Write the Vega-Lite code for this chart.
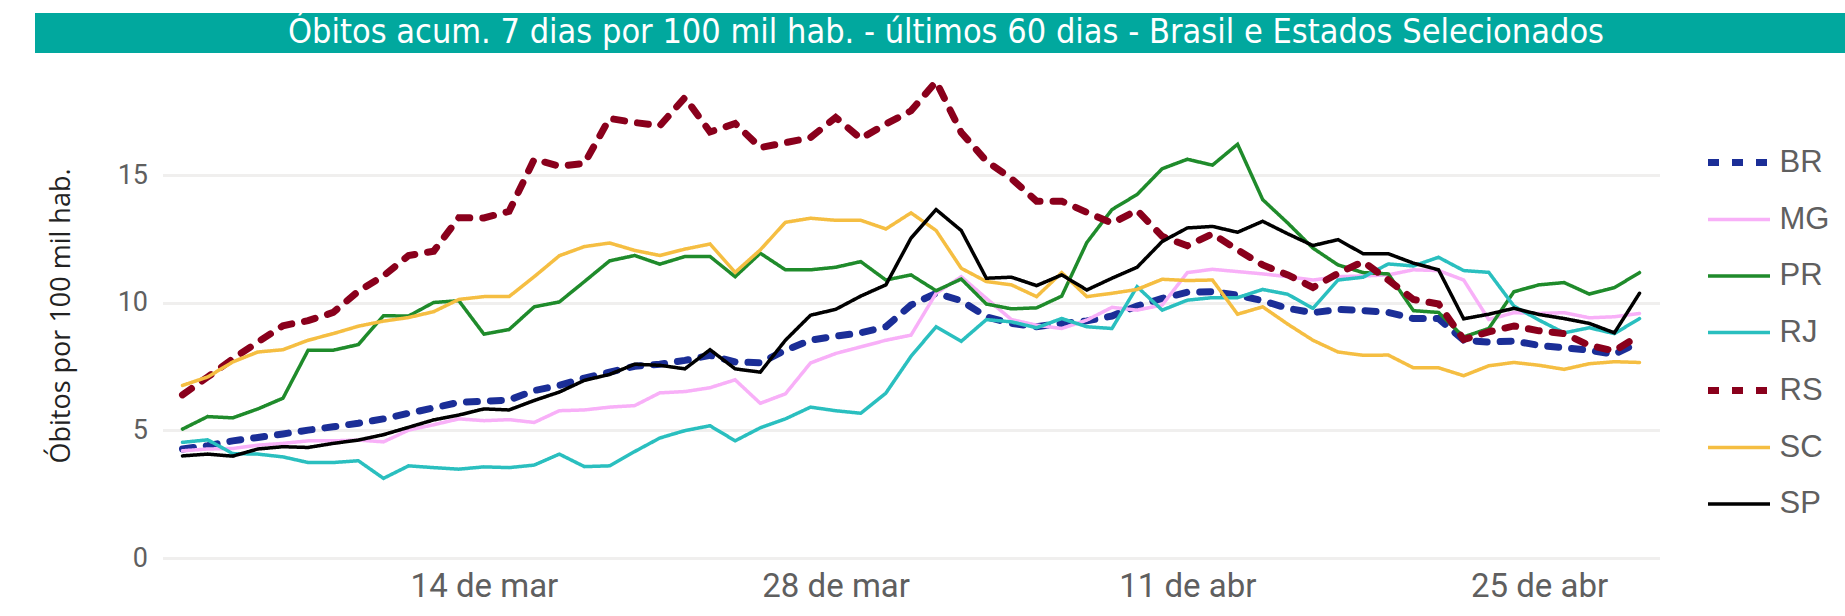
{
  "$schema": "https://vega.github.io/schema/vega-lite/v6.json",
  "background": "white",
  "padding": {"left": 35, "top": 13, "right": 0, "bottom": 0},
  "spacing": 14,
  "center": true,
  "resolve": {
    "scale": {"color": "independent", "strokeDash": "independent", "strokeWidth": "independent"},
    "legend": {"color": "independent", "strokeDash": "independent", "strokeWidth": "independent"}
  },
  "config": {
    "view": {"stroke": null},
    "axis": {"labelFont": "Roboto", "titleFont": "Open Sans"}
  },
  "vconcat": [
    {
      "width": 1936,
      "height": 40,
      "view": {"fill": "#01A89E", "stroke": null},
      "data": {"values": [{"t": "Óbitos acum. 7 dias por 100 mil hab. - últimos 60 dias - Brasil e Estados Selecionados"}]},
      "mark": {"type": "text", "color": "white", "font": "DejaVu Sans Condensed, DejaVu Sans", "fontSize": 34, "baseline": "middle", "align": "center", "dx": -57},
      "encoding": {"text": {"field": "t", "type": "nominal"}}
    },
    {
      "width": 1497,
      "height": 485,
      "data": {"values": [
        {"d": "2021-03-02", "BR": 4.27, "MG": 4.20, "PR": 5.05, "RJ": 4.53, "RS": 6.39, "SC": 6.76, "SP": 4.00},
        {"d": "2021-03-03", "BR": 4.40, "MG": 4.27, "PR": 5.54, "RJ": 4.63, "RS": 7.09, "SC": 7.09, "SP": 4.07},
        {"d": "2021-03-04", "BR": 4.59, "MG": 4.29, "PR": 5.49, "RJ": 4.09, "RS": 7.80, "SC": 7.68, "SP": 3.99},
        {"d": "2021-03-05", "BR": 4.72, "MG": 4.42, "PR": 5.84, "RJ": 4.07, "RS": 8.46, "SC": 8.07, "SP": 4.27},
        {"d": "2021-03-06", "BR": 4.86, "MG": 4.49, "PR": 6.26, "RJ": 3.96, "RS": 9.10, "SC": 8.16, "SP": 4.36},
        {"d": "2021-03-07", "BR": 5.01, "MG": 4.59, "PR": 8.14, "RJ": 3.74, "RS": 9.30, "SC": 8.53, "SP": 4.33},
        {"d": "2021-03-08", "BR": 5.14, "MG": 4.59, "PR": 8.14, "RJ": 3.74, "RS": 9.62, "SC": 8.79, "SP": 4.49},
        {"d": "2021-03-09", "BR": 5.28, "MG": 4.62, "PR": 8.36, "RJ": 3.81, "RS": 10.45, "SC": 9.08, "SP": 4.62},
        {"d": "2021-03-10", "BR": 5.45, "MG": 4.55, "PR": 9.49, "RJ": 3.12, "RS": 11.05, "SC": 9.28, "SP": 4.83},
        {"d": "2021-03-11", "BR": 5.67, "MG": 5.01, "PR": 9.48, "RJ": 3.61, "RS": 11.85, "SC": 9.42, "SP": 5.12},
        {"d": "2021-03-12", "BR": 5.88, "MG": 5.22, "PR": 10.01, "RJ": 3.54, "RS": 12.02, "SC": 9.65, "SP": 5.41},
        {"d": "2021-03-13", "BR": 6.10, "MG": 5.45, "PR": 10.08, "RJ": 3.48, "RS": 13.33, "SC": 10.13, "SP": 5.60},
        {"d": "2021-03-14", "BR": 6.14, "MG": 5.38, "PR": 8.77, "RJ": 3.57, "RS": 13.32, "SC": 10.24, "SP": 5.84},
        {"d": "2021-03-15", "BR": 6.19, "MG": 5.42, "PR": 8.95, "RJ": 3.54, "RS": 13.58, "SC": 10.24, "SP": 5.80},
        {"d": "2021-03-16", "BR": 6.56, "MG": 5.31, "PR": 9.84, "RJ": 3.64, "RS": 15.62, "SC": 11.02, "SP": 6.17},
        {"d": "2021-03-17", "BR": 6.76, "MG": 5.77, "PR": 10.03, "RJ": 4.07, "RS": 15.35, "SC": 11.84, "SP": 6.50},
        {"d": "2021-03-18", "BR": 7.05, "MG": 5.80, "PR": 10.83, "RJ": 3.58, "RS": 15.46, "SC": 12.20, "SP": 6.96},
        {"d": "2021-03-19", "BR": 7.28, "MG": 5.91, "PR": 11.64, "RJ": 3.61, "RS": 17.22, "SC": 12.34, "SP": 7.19},
        {"d": "2021-03-20", "BR": 7.51, "MG": 5.97, "PR": 11.85, "RJ": 4.17, "RS": 17.06, "SC": 12.05, "SP": 7.59},
        {"d": "2021-03-21", "BR": 7.59, "MG": 6.47, "PR": 11.51, "RJ": 4.70, "RS": 16.93, "SC": 11.85, "SP": 7.55},
        {"d": "2021-03-22", "BR": 7.74, "MG": 6.52, "PR": 11.81, "RJ": 4.99, "RS": 18.04, "SC": 12.10, "SP": 7.41},
        {"d": "2021-03-23", "BR": 7.94, "MG": 6.67, "PR": 11.81, "RJ": 5.18, "RS": 16.69, "SC": 12.30, "SP": 8.16},
        {"d": "2021-03-24", "BR": 7.68, "MG": 6.98, "PR": 11.02, "RJ": 4.59, "RS": 17.02, "SC": 11.19, "SP": 7.41},
        {"d": "2021-03-25", "BR": 7.65, "MG": 6.06, "PR": 11.94, "RJ": 5.10, "RS": 16.08, "SC": 12.07, "SP": 7.28},
        {"d": "2021-03-26", "BR": 8.14, "MG": 6.43, "PR": 11.29, "RJ": 5.45, "RS": 16.27, "SC": 13.15, "SP": 8.53},
        {"d": "2021-03-27", "BR": 8.53, "MG": 7.64, "PR": 11.29, "RJ": 5.91, "RS": 16.47, "SC": 13.31, "SP": 9.51},
        {"d": "2021-03-28", "BR": 8.69, "MG": 8.01, "PR": 11.39, "RJ": 5.77, "RS": 17.26, "SC": 13.23, "SP": 9.74},
        {"d": "2021-03-29", "BR": 8.82, "MG": 8.27, "PR": 11.61, "RJ": 5.67, "RS": 16.43, "SC": 13.23, "SP": 10.26},
        {"d": "2021-03-30", "BR": 9.06, "MG": 8.53, "PR": 10.89, "RJ": 6.46, "RS": 17.00, "SC": 12.89, "SP": 10.70},
        {"d": "2021-03-31", "BR": 9.91, "MG": 8.73, "PR": 11.09, "RJ": 7.90, "RS": 17.52, "SC": 13.52, "SP": 12.53},
        {"d": "2021-04-01", "BR": 10.37, "MG": 10.37, "PR": 10.47, "RJ": 9.06, "RS": 18.66, "SC": 12.83, "SP": 13.65},
        {"d": "2021-04-02", "BR": 10.08, "MG": 11.02, "PR": 10.93, "RJ": 8.49, "RS": 16.67, "SC": 11.35, "SP": 12.83},
        {"d": "2021-04-03", "BR": 9.45, "MG": 10.17, "PR": 9.95, "RJ": 9.34, "RS": 15.55, "SC": 10.83, "SP": 10.96},
        {"d": "2021-04-04", "BR": 9.19, "MG": 9.34, "PR": 9.76, "RJ": 9.25, "RS": 14.86, "SC": 10.70, "SP": 11.00},
        {"d": "2021-04-05", "BR": 9.06, "MG": 9.12, "PR": 9.80, "RJ": 9.02, "RS": 13.98, "SC": 10.24, "SP": 10.67},
        {"d": "2021-04-06", "BR": 9.19, "MG": 8.99, "PR": 10.26, "RJ": 9.38, "RS": 13.98, "SC": 11.18, "SP": 11.09},
        {"d": "2021-04-07", "BR": 9.29, "MG": 9.32, "PR": 12.36, "RJ": 9.06, "RS": 13.54, "SC": 10.24, "SP": 10.50},
        {"d": "2021-04-08", "BR": 9.48, "MG": 9.82, "PR": 13.65, "RJ": 8.99, "RS": 13.12, "SC": 10.37, "SP": 10.96},
        {"d": "2021-04-09", "BR": 9.87, "MG": 9.71, "PR": 14.24, "RJ": 10.63, "RS": 13.62, "SC": 10.52, "SP": 11.39},
        {"d": "2021-04-10", "BR": 10.17, "MG": 9.91, "PR": 15.25, "RJ": 9.71, "RS": 12.60, "SC": 10.92, "SP": 12.40},
        {"d": "2021-04-11", "BR": 10.41, "MG": 11.18, "PR": 15.62, "RJ": 10.10, "RS": 12.23, "SC": 10.87, "SP": 12.93},
        {"d": "2021-04-12", "BR": 10.43, "MG": 11.31, "PR": 15.39, "RJ": 10.20, "RS": 12.70, "SC": 10.89, "SP": 12.99},
        {"d": "2021-04-13", "BR": 10.30, "MG": 11.22, "PR": 16.21, "RJ": 10.20, "RS": 12.07, "SC": 9.55, "SP": 12.76},
        {"d": "2021-04-14", "BR": 10.08, "MG": 11.13, "PR": 14.04, "RJ": 10.52, "RS": 11.48, "SC": 9.84, "SP": 13.19},
        {"d": "2021-04-15", "BR": 9.78, "MG": 11.02, "PR": 13.12, "RJ": 10.33, "RS": 11.09, "SC": 9.16, "SP": 12.70},
        {"d": "2021-04-16", "BR": 9.61, "MG": 10.89, "PR": 12.14, "RJ": 9.78, "RS": 10.60, "SC": 8.53, "SP": 12.24},
        {"d": "2021-04-17", "BR": 9.74, "MG": 11.02, "PR": 11.48, "RJ": 10.89, "RS": 11.15, "SC": 8.07, "SP": 12.47},
        {"d": "2021-04-18", "BR": 9.69, "MG": 11.05, "PR": 11.18, "RJ": 11.00, "RS": 11.61, "SC": 7.94, "SP": 11.92},
        {"d": "2021-04-19", "BR": 9.62, "MG": 11.09, "PR": 11.13, "RJ": 11.52, "RS": 10.89, "SC": 7.95, "SP": 11.92},
        {"d": "2021-04-20", "BR": 9.38, "MG": 11.29, "PR": 9.69, "RJ": 11.44, "RS": 10.13, "SC": 7.45, "SP": 11.55},
        {"d": "2021-04-21", "BR": 9.38, "MG": 11.26, "PR": 9.62, "RJ": 11.78, "RS": 9.95, "SC": 7.45, "SP": 11.29},
        {"d": "2021-04-22", "BR": 8.53, "MG": 10.89, "PR": 8.66, "RJ": 11.26, "RS": 8.56, "SC": 7.14, "SP": 9.37},
        {"d": "2021-04-23", "BR": 8.46, "MG": 9.34, "PR": 8.99, "RJ": 11.19, "RS": 8.86, "SC": 7.53, "SP": 9.55},
        {"d": "2021-04-24", "BR": 8.50, "MG": 9.61, "PR": 10.43, "RJ": 9.87, "RS": 9.09, "SC": 7.66, "SP": 9.78},
        {"d": "2021-04-25", "BR": 8.33, "MG": 9.58, "PR": 10.70, "RJ": 9.32, "RS": 8.90, "SC": 7.55, "SP": 9.54},
        {"d": "2021-04-26", "BR": 8.24, "MG": 9.61, "PR": 10.79, "RJ": 8.82, "RS": 8.79, "SC": 7.39, "SP": 9.38},
        {"d": "2021-04-27", "BR": 8.14, "MG": 9.41, "PR": 10.34, "RJ": 9.02, "RS": 8.33, "SC": 7.61, "SP": 9.19},
        {"d": "2021-04-28", "BR": 7.98, "MG": 9.45, "PR": 10.59, "RJ": 8.79, "RS": 8.11, "SC": 7.69, "SP": 8.82},
        {"d": "2021-04-29", "BR": 8.46, "MG": 9.58, "PR": 11.18, "RJ": 9.38, "RS": 8.73, "SC": 7.66, "SP": 10.37}
      ]},
      "transform": [{"fold": ["BR", "MG", "PR", "RJ", "RS", "SC", "SP"], "as": ["serie", "valor"]}],
      "mark": {"type": "line", "strokeCap": "round", "strokeJoin": "miter"},
      "encoding": {
        "x": {
          "field": "d", "type": "temporal",
          "scale": {"type": "utc", "padding": 20, "nice": false},
          "axis": {
            "title": null, "grid": false, "domain": false, "ticks": false,
            "values": [
              {"year": 2021, "month": 3, "date": 14, "utc": true},
              {"year": 2021, "month": 3, "date": 28, "utc": true},
              {"year": 2021, "month": 4, "date": 11, "utc": true},
              {"year": 2021, "month": 4, "date": 25, "utc": true}
            ],
            "labelExpr": "utcdate(datum.value) + ' de ' + ['jan','fev','mar','abr','mai','jun','jul','ago','set','out','nov','dez'][utcmonth(datum.value)]",
            "labelFontSize": 33, "labelColor": "#5f5f5f", "labelPadding": 12
          }
        },
        "y": {
          "field": "valor", "type": "quantitative",
          "scale": {"domain": [0, 19], "nice": false},
          "axis": {
            "title": "Óbitos por 100 mil hab.", "values": [0, 5, 10, 15],
            "grid": true, "gridColor": "#F0EFEE", "gridWidth": 3,
            "domain": false, "ticks": false,
            "labelFontSize": 27, "labelColor": "#5f5f5f", "labelPadding": 15,
            "titleFontSize": 27, "titleFontWeight": "normal", "titleColor": "#222222", "titlePadding": 42
          }
        },
        "color": {
          "field": "serie", "type": "nominal",
          "scale": {"domain": ["BR", "MG", "PR", "RJ", "RS", "SC", "SP"], "range": ["#1B2E97", "#F8B0F8", "#1F8B2B", "#2ABFBF", "#8A001C", "#F5BE42", "#000000"]},
          "legend": {
            "title": " ", "titleFontSize": 20, "titlePadding": 21,
            "symbolType": "stroke", "symbolSize": 3844, "symbolStrokeWidth": 5,
            "labelFont": "Liberation Sans", "labelFontSize": 31, "labelColor": "#5f5f5f", "labelLimit": 60,
            "rowPadding": 8.5, "padding": 14, "offset": 31, "labelOffset": 6,
            "encode": {"symbols": {"update": {"strokeDash": {"signal": "datum.value === 'BR' || datum.value === 'RS' ? [14, 10] : [1, 0]"}}}}
          }
        },
        "strokeDash": {
          "field": "serie", "type": "nominal",
          "scale": {"domain": ["BR", "MG", "PR", "RJ", "RS", "SC", "SP"], "range": [[11, 13], [1, 0], [1, 0], [1, 0], [11, 13], [1, 0], [1, 0]]},
          "legend": {
            "title": " ", "titleFontSize": 20, "titlePadding": 21,
            "symbolType": "stroke", "symbolSize": 3844, "symbolStrokeWidth": 5,
            "labelFont": "Liberation Sans", "labelFontSize": 31, "labelColor": "#5f5f5f", "labelLimit": 60,
            "rowPadding": 8.5, "padding": 14, "offset": 31, "labelOffset": 6,
            "encode": {"symbols": {"update": {"strokeDash": {"signal": "datum.value === 'BR' || datum.value === 'RS' ? [14, 10] : [1, 0]"}}}}
          }
        },
        "strokeWidth": {
          "field": "serie", "type": "nominal",
          "scale": {"type": "ordinal", "domain": ["BR", "MG", "PR", "RJ", "RS", "SC", "SP"], "range": [7, 3.5, 3.5, 3.5, 7, 3.5, 3.5]},
          "legend": null
        }
      }
    }
  ]
}
